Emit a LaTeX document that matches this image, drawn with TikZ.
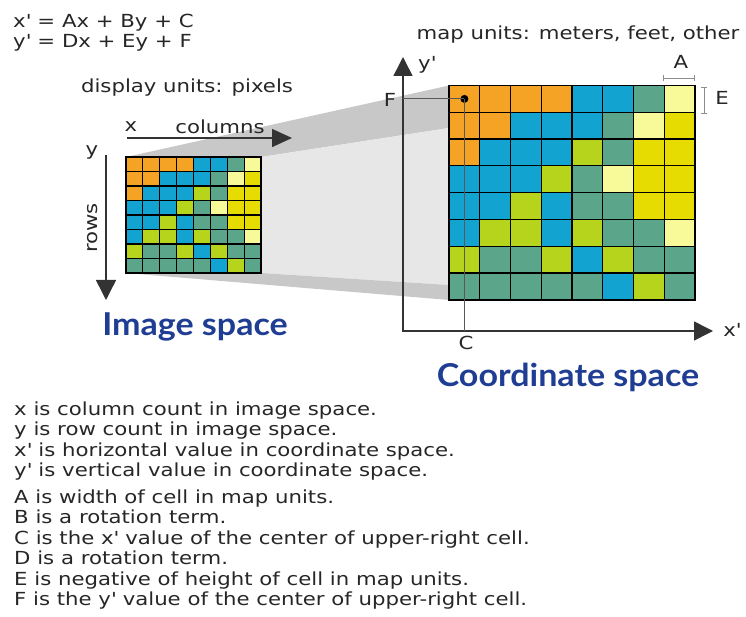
\documentclass[tikz,border=0pt]{standalone}
\usepackage{fontspec}
\setmainfont{DejaVu Sans}[FakeStretch=1.18]
\newfontfamily\titlefont{Lato}[FakeStretch=1.08]
\usetikzlibrary{arrows.meta}
\definecolor{cello}{HTML}{F5A325}
\definecolor{cellb}{HTML}{12A3D0}
\definecolor{cellt}{HTML}{5BA68B}
\definecolor{cellg}{HTML}{B6D41C}
\definecolor{celly}{HTML}{E6DC02}
\definecolor{celll}{HTML}{F8FA9A}
\definecolor{titleblue}{HTML}{1F3D93}
\definecolor{shadedark}{HTML}{C8C8C8}
\definecolor{shadelight}{HTML}{E7E7E7}
\newcommand\pr{\textquotesingle}
% cell colours, row by row from the top
\newcommand\cellrows{{o,o,o,o,b,b,t,l},{o,o,b,b,b,t,l,y},{o,b,b,b,g,t,y,y},{b,b,b,g,t,l,y,y},{b,b,g,b,t,t,y,y},{b,g,g,b,g,t,t,l},{g,t,t,g,b,g,t,t},{t,t,t,t,t,b,g,t}}

\begin{document}
\begin{tikzpicture}[x=1pt, y=-1pt,
    label/.style={font=\fontsize{18}{20.5}\selectfont, text=black!85, inner sep=0pt},
    title/.style={font=\titlefont\fontsize{31.5}{34}\selectfont\bfseries, text=titleblue, inner sep=0pt},
    axisline/.style={line width=1.5pt, draw=black!80},
    guide/.style={line width=0.9pt, draw=black!65},
    dimline/.style={line width=0.9pt, draw=black!45, {Bar[width=6pt]}-{Bar[width=6pt]}},
    cellbox/.style={draw=black, line width=1.2pt}
  ]
    \useasboundingbox (0,0) rectangle (746,617);

    % projection from image to map
    \fill[shadedark] (126,157) -- (261,157) -- (449,128) -- (449,85.5) -- cycle;
    \fill[shadelight] (261,157) -- (261,273) -- (449,285) -- (449,128) -- cycle;
    \fill[shadedark] (126,273) -- (261,273) -- (449,285) -- (449,300) -- cycle;

    % coordinate space axes
    \coordinate (origin) at (403,331);
    \coordinate (ytip) at (403,57);
    \coordinate (xtip) at (713,331);
    \draw[axisline, {Triangle[length=19pt,width=19pt]}-{Triangle[length=19pt,width=19pt]}] (ytip) -- (origin) -- (xtip);

    % image space axes
    \coordinate (colstart) at (127,138);
    \coordinate (coltip) at (292,138);
    \coordinate (rowstart) at (106,155);
    \coordinate (rowtip) at (106,300);
    \draw[axisline, -{Triangle[length=20pt,width=18pt]}] (colstart) -- (coltip);
    \draw[axisline, -{Triangle[length=20pt,width=20pt]}] (rowstart) -- (rowtip);

    % the two rasters
    \foreach \gx/\gy/\gw/\gh in {449/85.5/30.75/26.8, 126/157/16.875/14.5} {
      \begin{scope}[shift={(\gx,\gy)}, x=\gw pt, y=-\gh pt]
        \foreach \row [count=\r from 0] in \cellrows {
          \foreach \c [count=\k from 0] in \row {
            \filldraw[cellbox, fill=cell\c] (\k,\r) rectangle ++(1,1);
          }
        }
      \end{scope}
    }

    % centre of the first cell
    \coordinate (fstart) at (403,98.9);
    \coordinate (cend) at (464.4,331);
    \node[circle, fill=black, inner sep=0pt, minimum size=8pt] (refdot) at (464.4,98.9) {};
    \draw[guide] (fstart) -- (refdot.center);
    \draw[guide] (refdot.center) -- (cend);

    % cell size marks
    \coordinate (aleft) at (663,78);
    \coordinate (aright) at (695,78);
    \coordinate (etop) at (704,87);
    \coordinate (ebottom) at (704,114);
    \draw[dimline] (aleft) -- (aright);
    \draw[dimline] (etop) -- (ebottom);

    % labels
    \node[label, anchor=west] (eqx) at (13,23) {x\pr{} = Ax + By + C};
    \node[label, anchor=west] (eqy) at (13,43) {y\pr{} = Dx + Ey + F};
    \node[label] (pixunits) at (187,88) {display units: pixels};
    \node[label] (xlab) at (131,127) {x};
    \node[label] (collab) at (220,127) {columns};
    \node[label] (ylab) at (92,152) {y};
    \node[label, rotate=90] (rowlab) at (93,228) {rows};
    \node[label] (mapunits) at (578,35) {map units: meters, feet, other};
    \node[label] (yplab) at (427,65) {y\pr};
    \node[label] (xplab) at (732,330) {x\pr};
    \node[label] (flab) at (390,100) {F};
    \node[label] (clab) at (466,343) {C};
    \node[label] (alab) at (681,62) {A};
    \node[label] (elab) at (722,98) {E};

    \node[title, anchor=base] (imgtitle) at (195,335) {Image space};
    \node[title, anchor=base] (maptitle) at (568,386) {Coordinate space};

    % legend
    \foreach \txt [count=\i from 0] in {x is column count in image space., y is row count in image space., x\pr{} is horizontal value in coordinate space., y\pr{} is vertical value in coordinate space.} {
      \node[label, anchor=base west] (vars\i) at (14,415+20.5*\i) {\txt};
    }
    \foreach \txt [count=\i from 0] in {A is width of cell in map units., B is a rotation term., C is the x\pr{} value of the center of upper-right cell., D is a rotation term., E is negative of height of cell in map units., F is the y\pr{} value of the center of upper-right cell.} {
      \node[label, anchor=base west] (terms\i) at (14,503+20.5*\i) {\txt};
    }
\end{tikzpicture}
\end{document}
